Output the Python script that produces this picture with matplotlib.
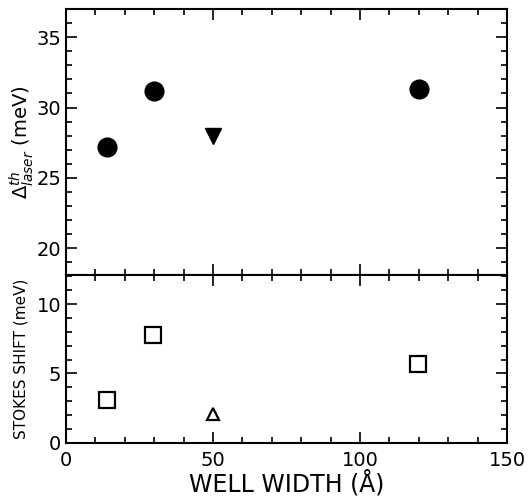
import matplotlib
matplotlib.use('Agg')
import matplotlib.pyplot as plt
from matplotlib.ticker import MultipleLocator

# laser threshold data (top panel)
width_circ = [14, 30, 120]
laser_circ = [27.2, 31.2, 31.35]
width_tri = [50]
laser_tri = [28.0]

# stokes shift data (bottom panel)
width_sq = [14, 29.5, 119.7]
stokes_sq = [3.05, 7.8, 5.65]
width_tri2 = [49.9]
stokes_tri2 = [2.1]

fig = plt.figure(figsize=(5.31, 5.04), dpi=100)
ax1 = fig.add_axes([0.1243, 0.4544, 0.8305, 0.5277])
ax2 = fig.add_axes([0.1243, 0.1216, 0.8305, 0.3328])

ax1.plot(width_circ, laser_circ, 'o', color='k', ms=13.5)
ax1.plot(width_tri, laser_tri, 'v', color='k', ms=12)

ax2.plot(width_sq, stokes_sq, 's', mfc='none', mec='k', ms=11, mew=1.6)
ax2.plot(width_tri2, stokes_tri2, '^', mfc='none', mec='k', ms=9, mew=1.6)

for ax in (ax1, ax2):
    ax.set_xlim(0, 150)
    ax.xaxis.set_major_locator(MultipleLocator(50))
    ax.xaxis.set_minor_locator(MultipleLocator(10))
    ax.yaxis.set_minor_locator(MultipleLocator(1))
    ax.tick_params(which='both', direction='in', top=True, right=True, width=1.2, labelsize=14)
    ax.tick_params(which='major', length=8)
    ax.tick_params(which='minor', length=4)
    for s in ax.spines.values():
        s.set_linewidth(1.5)

ax1.set_ylim(18.1, 37)
ax1.yaxis.set_major_locator(MultipleLocator(5))
ax1.tick_params(labelbottom=False)
ax1.set_ylabel(r'$\Delta^{th}_{laser}$ (meV)', fontsize=14, labelpad=0)

ax2.set_ylim(0, 12.1)
ax2.yaxis.set_major_locator(MultipleLocator(5))
ax2.tick_params(axis='x', pad=6)
ax2.set_ylabel('STOKES SHIFT (meV)', fontsize=11, labelpad=6)
ax2.set_xlabel('WELL WIDTH (Å)', fontsize=17, labelpad=0)

fig.savefig('out.png', dpi=100)
